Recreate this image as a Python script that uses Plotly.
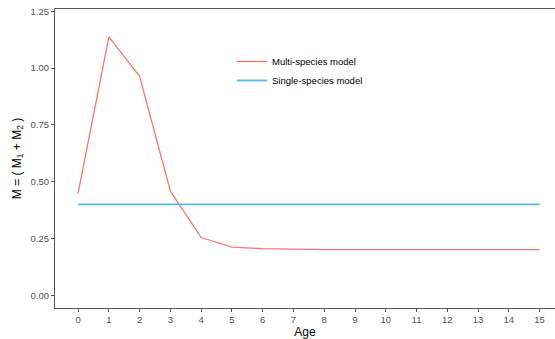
import plotly.graph_objects as go

ages = list(range(16))
multi = [0.449, 1.137, 0.964, 0.458, 0.254, 0.212, 0.205, 0.202, 0.201, 0.201, 0.201, 0.201, 0.201, 0.201, 0.201, 0.201]
single = [0.40] * 16
y_ticks = [0, 0.25, 0.5, 0.75, 1.0, 1.25]
y_tick_labels = ["0.00", "0.25", "0.50", "0.75", "1.00", "1.25"]

fig = go.Figure()
fig.add_trace(go.Scatter(x=ages, y=multi, mode="lines", name="Multi-species model",
                         line=dict(color="#F8766D", width=1.3)))
fig.add_trace(go.Scatter(x=ages, y=single, mode="lines", name="Single-species model",
                         line=dict(color="#56B9E2", width=1.8)))

axis_common = dict(showgrid=False, zeroline=False, showline=True, linecolor="#555555", linewidth=1,
                   ticks="outside", ticklen=3, tickcolor="#555555",
                   tickfont=dict(size=9.5, color="#555555", family="Liberation Sans"))
fig.update_xaxes(range=[-0.75, 15.5], tickvals=ages, mirror=True,
                 title=dict(text="Age", font=dict(size=12, color="black", family="Liberation Sans"), standoff=4),
                 **axis_common)
fig.update_yaxes(range=[-0.056, 1.26], tickvals=y_ticks, ticktext=y_tick_labels,
                 title=dict(text="M = ( M<sub>1</sub> + M<sub>2</sub> )",
                            font=dict(size=12, color="black", family="Liberation Sans"), standoff=6),
                 **axis_common)
fig.update_layout(width=555, height=339, margin=dict(l=55, r=0, t=9, b=31),
                  plot_bgcolor="white", paper_bgcolor="white",
                  font=dict(family="Liberation Sans"),
                  legend=dict(x=0.354, y=0.873, xanchor="left", yanchor="top",
                              font=dict(size=9.5, color="black"), bgcolor="rgba(0,0,0,0)",
                              itemwidth=30, tracegroupgap=0))
fig.write_html("out.html")
